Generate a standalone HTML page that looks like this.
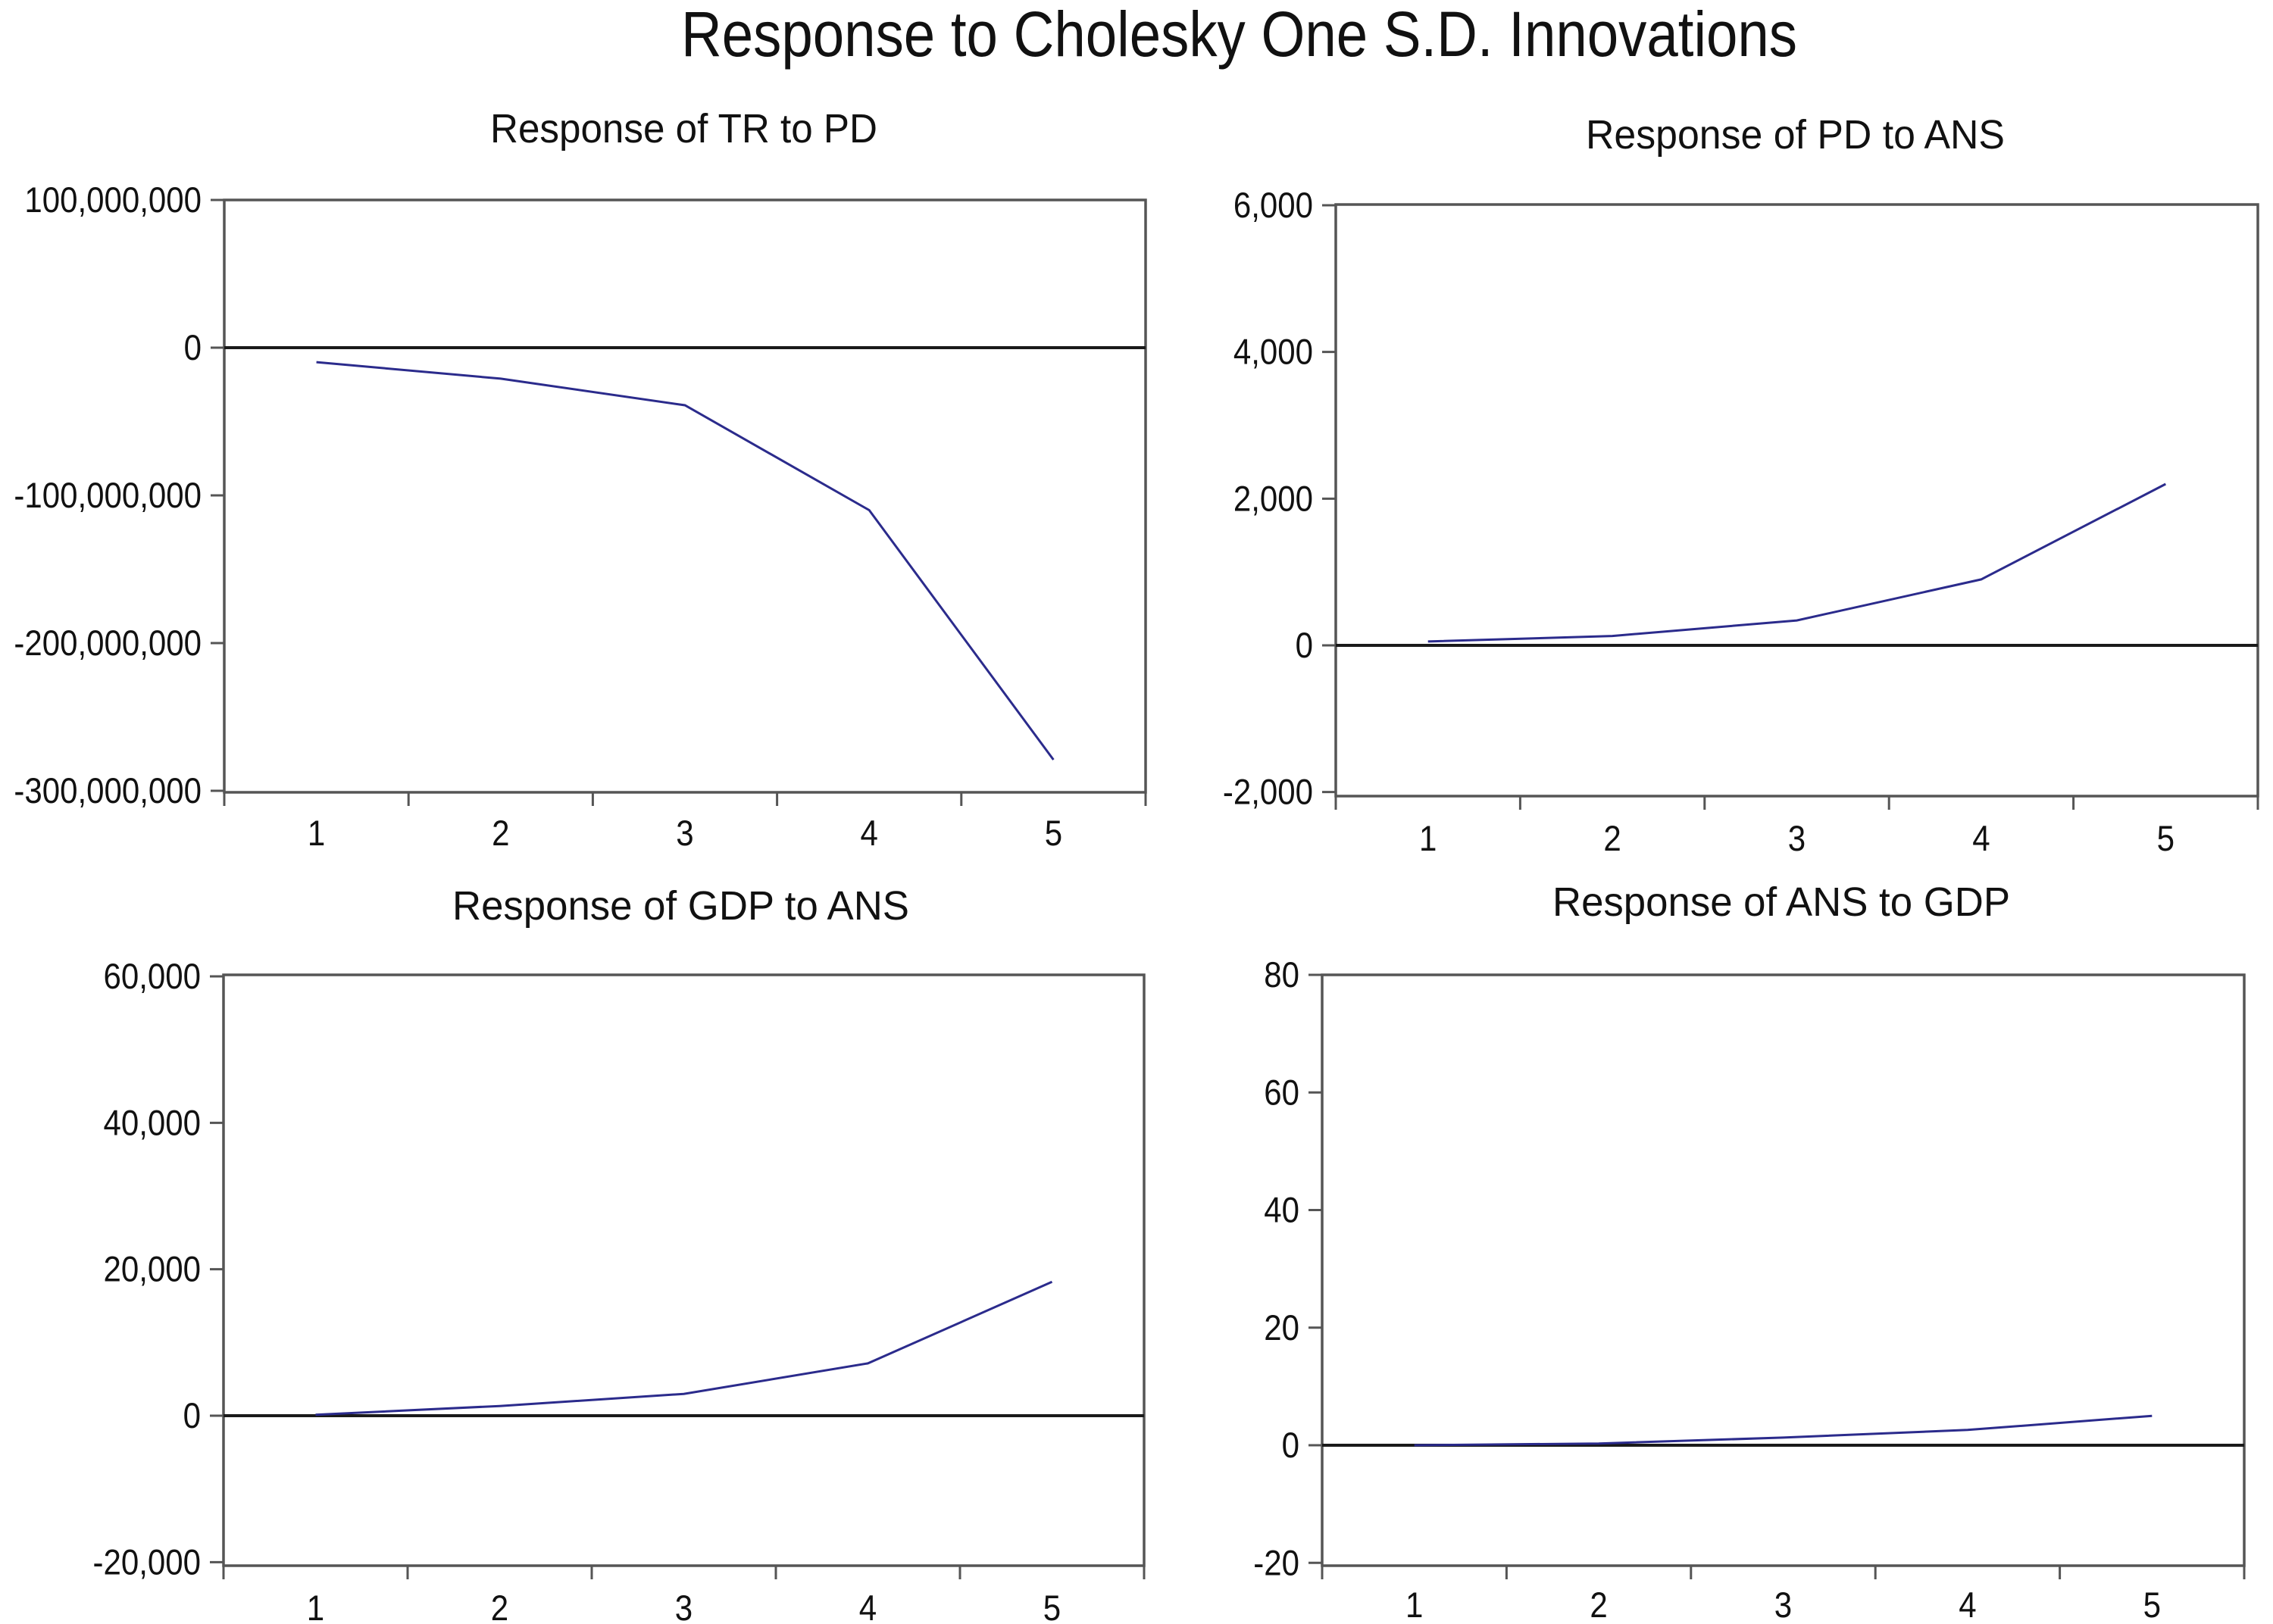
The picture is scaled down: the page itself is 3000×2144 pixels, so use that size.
<!DOCTYPE html>
<html>
<head>
<meta charset="utf-8">
<style>
html,body{margin:0;padding:0;background:#fff;}
svg{display:block;}
text{font-family:"Liberation Sans",Arial,sans-serif;fill:#111;}
</style>
</head>
<body>
<svg id="chart" width="3000" height="2144" viewBox="0 0 3000 2144" xmlns="http://www.w3.org/2000/svg">
<rect x="0" y="0" width="3000" height="2144" fill="#fff"/>
<text x="899" y="74" font-size="84" textLength="1473" lengthAdjust="spacingAndGlyphs">Response to Cholesky One S.D. Innovations</text>
</svg>
<script>
// Data (periods 1..5)
const periods = [1, 2, 3, 4, 5];
const trToPd = [-9800000, -21000000, -39000000, -110000000, -279000000];
const pdToAns = [53, 128, 340, 900, 2200];
const gdpToAns = [130, 1320, 2980, 7150, 18280];
const ansToGdp = [0, 0.3, 1.3, 2.6, 5.0];
const ticksTL = [100000000, 0, -100000000, -200000000, -300000000];
const ticksTR = [6000, 4000, 2000, 0, -2000];
const ticksBL = [60000, 40000, 20000, 0, -20000];
const ticksBR = [80, 60, 40, 20, 0, -20];
const titleTL = "Response of TR to PD";
const titleTR = "Response of PD to ANS";
const titleBL = "Response of GDP to ANS";
const titleBR = "Response of ANS to GDP";

const NS = "http://www.w3.org/2000/svg";
const svg = document.getElementById('chart');
function mk(tag, attrs, parent){
  const e = document.createElementNS(NS, tag);
  for (const k in attrs) e.setAttribute(k, attrs[k]);
  (parent || svg).appendChild(e);
  return e;
}
function fmt(v){
  const s = Math.abs(v).toLocaleString('en-US');
  return (v < 0 ? '-' : '') + s;
}
// make text narrower/taller: measure at base size, then enlarge and compress to same width
function narrow(t, base, big){
  let w = 0;
  try { w = t.getComputedTextLength(); } catch(e) { w = 0; }
  if (w > 0){
    t.setAttribute('font-size', big);
    t.setAttribute('textLength', w.toFixed(1));
    t.setAttribute('lengthAdjust', 'spacingAndGlyphs');
  }
}

function panel(cfg){
  const g = mk('g', {});
  
  
  const L = cfg.left, R = cfg.right, T = cfg.top, B = cfg.bottom;
  const yScale = v => cfg.y0px + v * (cfg.yTopPx - cfg.y0px) / cfg.yTopVal;
  const step = (R - L) / periods.length;
  const xScale = p => L + (p - 0.5) * step;

  const st = mk('text', {x: cfg.titleX, y: cfg.titleY, 'font-size': 54, textLength: cfg.titleW, lengthAdjust: 'spacingAndGlyphs'}, g);
  st.textContent = cfg.title;
  
  

  const fr = mk('rect', {x: L, y: T, width: R - L, height: B - T, fill: 'none', stroke: '#555', 'stroke-width': 3.5}, g);
  
  

  cfg.ticks.forEach(v => {
    const y = yScale(v);
    const tk = mk('line', {x1: L - 18, x2: L, y1: y, y2: y, stroke: '#555', 'stroke-width': 3}, g);
    
    
    const t = mk('text', {x: L - 30, y: y + 16, 'font-size': 42, 'text-anchor': 'end'}, g);
    t.textContent = fmt(v);
    
    
    narrow(t, 42, 47);
  });

  for (let i = 0; i <= periods.length; i++){
    const x = L + i * step;
    const tk = mk('line', {x1: x, x2: x, y1: B, y2: B + 18, stroke: '#555', 'stroke-width': 3}, g);
    
    
  }
  periods.forEach(p => {
    const t = mk('text', {x: xScale(p), y: cfg.xLabelY, 'font-size': 42, 'text-anchor': 'middle'}, g);
    t.textContent = String(p);
    
    
    narrow(t, 42, 47);
  });

  const z = yScale(0);
  const zl = mk('line', {x1: L, x2: R, y1: z, y2: z, stroke: '#1a1a1a', 'stroke-width': 4}, g);
  
  

  const pts = periods.map((p, i) => xScale(p).toFixed(1) + ',' + yScale(cfg.data[i]).toFixed(1)).join(' ');
  const pl = mk('polyline', {points: pts, fill: 'none', stroke: '#2b2b8c', 'stroke-width': 3}, g);
  
  
}

panel({name: 'panel-tr-to-pd', title: titleTL, titleX: 647, titleY: 188, titleW: 511,
  left: 296, right: 1512, top: 264, bottom: 1046,
  y0px: 459, yTopPx: 264, yTopVal: 100000000, ticks: ticksTL, data: trToPd, xLabelY: 1116});
panel({name: 'panel-pd-to-ans', title: titleTR, titleX: 2093, titleY: 196, titleW: 553,
  left: 1763, right: 2980, top: 270, bottom: 1051,
  y0px: 852, yTopPx: 271, yTopVal: 6000, ticks: ticksTR, data: pdToAns, xLabelY: 1123});
panel({name: 'panel-gdp-to-ans', title: titleBL, titleX: 597, titleY: 1214, titleW: 603,
  left: 295, right: 1510, top: 1287, bottom: 2067,
  y0px: 1869, yTopPx: 1289, yTopVal: 60000, ticks: ticksBL, data: gdpToAns, xLabelY: 2139});
panel({name: 'panel-ans-to-gdp', title: titleBR, titleX: 2049, titleY: 1209, titleW: 604,
  left: 1745, right: 2962, top: 1287, bottom: 2067,
  y0px: 1908, yTopPx: 1287, yTopVal: 80, ticks: ticksBR, data: ansToGdp, xLabelY: 2135});
</script>
</body>
</html>
